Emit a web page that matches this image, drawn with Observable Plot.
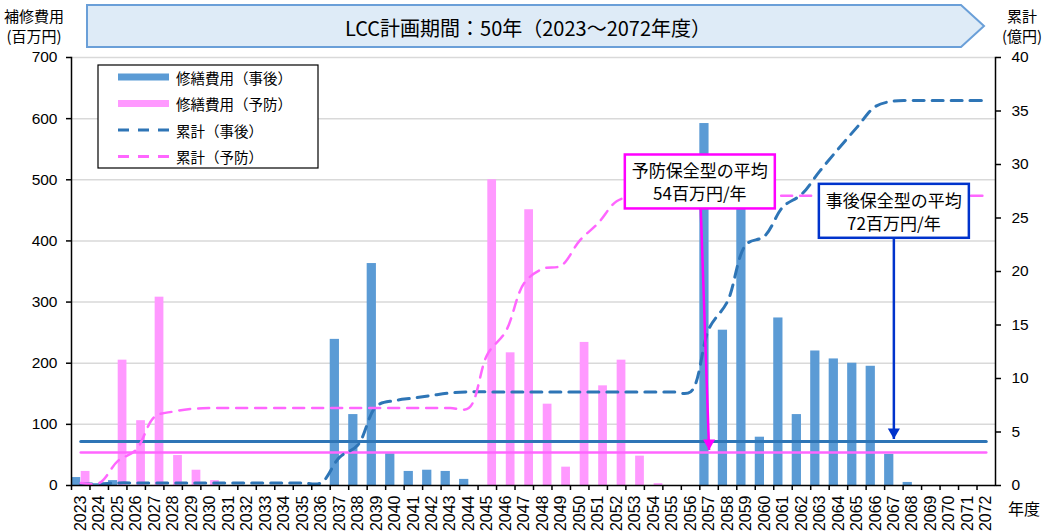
<!DOCTYPE html>
<html>
<head>
<meta charset="utf-8">
<script src="https://cdn.jsdelivr.net/npm/d3@7"></script>
<script src="https://cdn.jsdelivr.net/npm/@observablehq/plot@0.6"></script>
<style>
  html, body { margin: 0; padding: 0; background: #fff; }
  #wrap { position: relative; width: 1047px; height: 532px; }
</style>
</head>
<body>
<div id="wrap"></div>
<script>
// ---------- data ----------
const years = ["2023","2024","2025","2026","2027","2028","2029","2030","2031","2032",
               "2033","2034","2035","2036","2037","2038","2039","2040","2041","2042",
               "2043","2044","2045","2046","2047","2048","2049","2050","2051","2052",
               "2053","2054","2055","2056","2057","2058","2059","2060","2061","2062",
               "2063","2064","2065","2066","2067","2068","2069","2070","2071","2072"];
// 修繕費用（事後） 百万円
const repairPost = [13,3,8,0,0,0,0,0,0,0,
                    0,0,0,0,239,116,363,52,23,25,
                    23,10,0,0,0,0,0,0,0,0,
                    0,0,0,0,592,254,530,79,274,116,
                    220,207,200,195,51,5,0,0,0,0];
// 修繕費用（予防） 百万円
const repairPrev = [23,0,205,106,308,49,25,8,0,0,
                    0,0,0,0,0,0,0,0,0,0,
                    0,0,500,217,451,133,30,234,163,205,
                    48,3,0,0,0,0,0,0,0,0,
                    0,0,0,0,0,0,0,0,0,0];
const avgPost = 72;   // 事後保全型の平均 百万円/年
const avgPrev = 54;   // 予防保全型の平均 百万円/年
const avgSpan = ["2023", "2072"];
const leftTicks = [0,100,200,300,400,500,600,700];
const rightTicks = [0,5,10,15,20,25,30,35,40];
const legendLabels = ["修繕費用（事後）","修繕費用（予防）","累計（事後）","累計（予防）"];
const titleText = "LCC計画期間：50年（2023～2072年度）";
const calloutPrev = {year: "2057", text: "予防保全型の平均\n54百万円/年"};
const calloutPost = {year: "2067", text: "事後保全型の平均\n72百万円/年"};

// ---------- derived ----------
const W = 1047, H = 532;
const mL = 71, mR = 52, mT = 57, mB = 47;
const bw = (W - mL - mR) / years.length;
const leftMax = 700, rightMax = 40;           // 700 百万円 ↔ 40 億円
const perOku = leftMax / rightMax;            // left units per 億円
const cumPost = d3.cumsum(repairPost);
const cumPrev = d3.cumsum(repairPrev);
const rows = years.map((year, i) => ({
  year,
  post: repairPost[i],
  prev: repairPrev[i],
  cPost: cumPost[i] / 100 * perOku,
  cPrev: cumPrev[i] / 100 * perOku
}));
const avgRowsPost = avgSpan.map(year => ({year, v: avgPost}));
const avgRowsPrev = avgSpan.map(year => ({year, v: avgPrev}));

const C = {
  barPost: "#5b9bd5", barPrev: "#ff99ff",
  cumPost: "#2e75b6", cumPrev: "#ff66ff",
  avgPost: "#2e75b6", avgPrev: "#ff66ff",
  boxPrev: "#ff00ff", boxPost: "#0033cc"
};
const jp = "'Noto Sans CJK JP', 'Noto Sans', sans-serif";
const num = "'Liberation Sans', Arial, sans-serif";
const narrow = "'Liberation Sans Narrow', 'Liberation Sans', sans-serif";

const shiftStart = (index, scales, values, dimensions, context, next) =>
  next(index, scales, {...values, x1: Float64Array.from(values.x1, v => v - bw / 2)}, dimensions, context);

const chart = Plot.plot({
  width: W, height: H,
  marginLeft: mL, marginRight: mR, marginTop: mT, marginBottom: mB,
  style: {fontFamily: num, fontSize: "15px", color: "#000", background: "#fff", overflow: "visible"},
  x: {type: "band", domain: years, padding: 0, round: false, axis: null},
  y: {domain: [0, leftMax], axis: null},
  marks: [
    Plot.ruleY(leftTicks.slice(1), {stroke: "#d9d9d9", strokeWidth: 1.5}),
    Plot.barY(rows, {x: "year", y: "post", fill: C.barPost, insetLeft: 0, insetRight: bw / 2}),
    Plot.barY(rows, {x: "year", y: "prev", fill: C.barPrev, insetLeft: bw / 2 + 0.5, insetRight: 0}),
    Plot.line(avgRowsPost, {x: "year", y: "v", stroke: C.avgPost, strokeWidth: 3}),
    Plot.line(avgRowsPrev, {x: "year", y: "v", stroke: C.avgPrev, strokeWidth: 2.5}),
    Plot.line(rows, {x: "year", y: "cPost", stroke: C.cumPost, strokeWidth: 3, strokeDasharray: "11,8", curve: "catmull-rom"}),
    Plot.line(rows, {x: "year", y: "cPrev", stroke: C.cumPrev, strokeWidth: 2.5, strokeDasharray: "11,8", curve: "catmull-rom"}),
    // axes
    Plot.ruleY([0], {stroke: "#000", strokeWidth: 1.5}),
    Plot.frame({anchor: "left", stroke: "#000", strokeWidth: 1.5}),
    Plot.frame({anchor: "right", stroke: "#000", strokeWidth: 1.5}),
    Plot.axisY(leftTicks, {anchor: "left", tickSize: 5, tickPadding: 9, fontSize: 15.5, fontFamily: num, strokeWidth: 1.5, label: null}),
    Plot.axisY(rightTicks.map(v => v * perOku), {anchor: "right", tickSize: 5, tickPadding: 11, fontSize: 15.5, fontFamily: num, strokeWidth: 1.5, label: null,
      tickFormat: d => String(Math.round(d / perOku))}),
    Plot.axisX(years, {anchor: "bottom", tickSize: 5, tickFormat: () => "", dx: -bw / 2, strokeWidth: 1.5, label: null}),
    Plot.axisX(years, {anchor: "bottom", tickSize: 0, tickPadding: 10, tickRotate: -90, fontSize: 16, fontFamily: narrow, label: null}),
    // callout arrows
    Plot.link([{year: calloutPrev.year, from: 497, to: 58}], {x1: "year", x2: "year", y1: "from", y2: "to", stroke: C.boxPrev, strokeWidth: 2.5, render: shiftStart}),
    Plot.dot([{year: calloutPrev.year, v: 58}], {x: "year", y: "v", symbol: "triangle", r: 4.5, rotate: 180, dy: -7, fill: C.boxPrev, stroke: "none"}),
    Plot.link([{year: calloutPost.year, from: 449, to: 76}], {x1: "year", x2: "year", y1: "from", y2: "to", stroke: C.boxPost, strokeWidth: 2.5}),
    Plot.dot([{year: calloutPost.year, v: 76}], {x: "year", y: "v", symbol: "triangle", r: 4.5, rotate: 180, dy: -7, fill: C.boxPost, stroke: "none"}),
    // callout texts
    Plot.text([calloutPrev], {x: "year", y: () => 497, dx: -bw / 2, text: "text", fontFamily: jp, fontSize: 17, lineHeight: 1.35, fill: "#000", ariaLabel: () => "callout-prev"}),
    Plot.text([calloutPost], {x: "year", y: () => 449, text: "text", fontFamily: jp, fontSize: 17, lineHeight: 1.35, fill: "#000", ariaLabel: () => "callout-post"})
  ]
});

document.getElementById("wrap").appendChild(chart);
const svg = d3.select(chart);

// callout boxes behind the texts
function boxFor(label, color) {
  const t = svg.select(`text[aria-label="${label}"]`);
  if (t.empty()) return;
  const g = t.node().parentNode;
  const bb = t.node().getBBox();
  const m = t.node().getCTM();
  const sm = svg.node().getCTM();
  const ox = m.e - sm.e, oy = m.f - sm.f;
  const padX = 7, padY = 3;
  g.parentNode.insertBefore(
    d3.create("svg:rect")
      .attr("x", bb.x + ox - padX).attr("y", bb.y + oy - padY)
      .attr("width", bb.width + 2 * padX).attr("height", bb.height + 2 * padY)
      .attr("fill", "#fff").attr("stroke", color).attr("stroke-width", 2.5).node(),
    g);
}
boxFor("callout-prev", C.boxPrev);
boxFor("callout-post", C.boxPost);

// header chevron
const head = svg.append("g");
head.append("polygon")
  .attr("points", "87,5 961,5 984,26 961,47 87,47")
  .attr("fill", "#deebf7").attr("stroke", "#6a9fd8").attr("stroke-width", 2);
head.append("text").attr("x", 528).attr("y", 27).attr("text-anchor", "middle")
  .attr("dominant-baseline", "central").attr("font-family", jp).attr("font-size", 20)
  .attr("fill", "#000").text(titleText);

// axis titles
const at = svg.append("g").attr("font-family", jp).attr("font-size", 15).attr("fill", "#000").attr("text-anchor", "middle");
at.append("text").attr("x", 34).attr("y", 15).attr("dominant-baseline", "central").text("補修費用");
at.append("text").attr("x", 34).attr("y", 35).attr("dominant-baseline", "central").text("(百万円)");
at.append("text").attr("x", 1022).attr("y", 15).attr("dominant-baseline", "central").text("累計");
at.append("text").attr("x", 1022).attr("y", 35).attr("dominant-baseline", "central").text("(億円)");
at.append("text").attr("x", 1024).attr("y", 508).attr("dominant-baseline", "central").attr("font-size", 16).text("年度");

// legend
const lg = svg.append("g").attr("text-anchor", "start");
lg.append("rect").attr("x", 98).attr("y", 65).attr("width", 220).attr("height", 103)
  .attr("fill", "#fff").attr("stroke", "#000").attr("stroke-width", 1.2);
const sw = [
  {color: C.barPost, w: 7, dash: null},
  {color: C.barPrev, w: 7, dash: null},
  {color: C.cumPost, w: 3, dash: "11,9"},
  {color: C.cumPrev, w: 3, dash: "11,9"}
];
legendLabels.forEach((t, i) => {
  const y = 77 + i * 26.5;
  lg.append("line").attr("x1", 118).attr("x2", 169).attr("y1", y).attr("y2", y)
    .attr("stroke", sw[i].color).attr("stroke-width", sw[i].w)
    .attr("stroke-dasharray", sw[i].dash);
  lg.append("text").attr("x", 176).attr("y", y).attr("dominant-baseline", "central")
    .attr("text-anchor", "start")
    .attr("font-family", jp).attr("font-size", 14.5).attr("fill", "#000").text(t);
});
</script>
</body>
</html>
